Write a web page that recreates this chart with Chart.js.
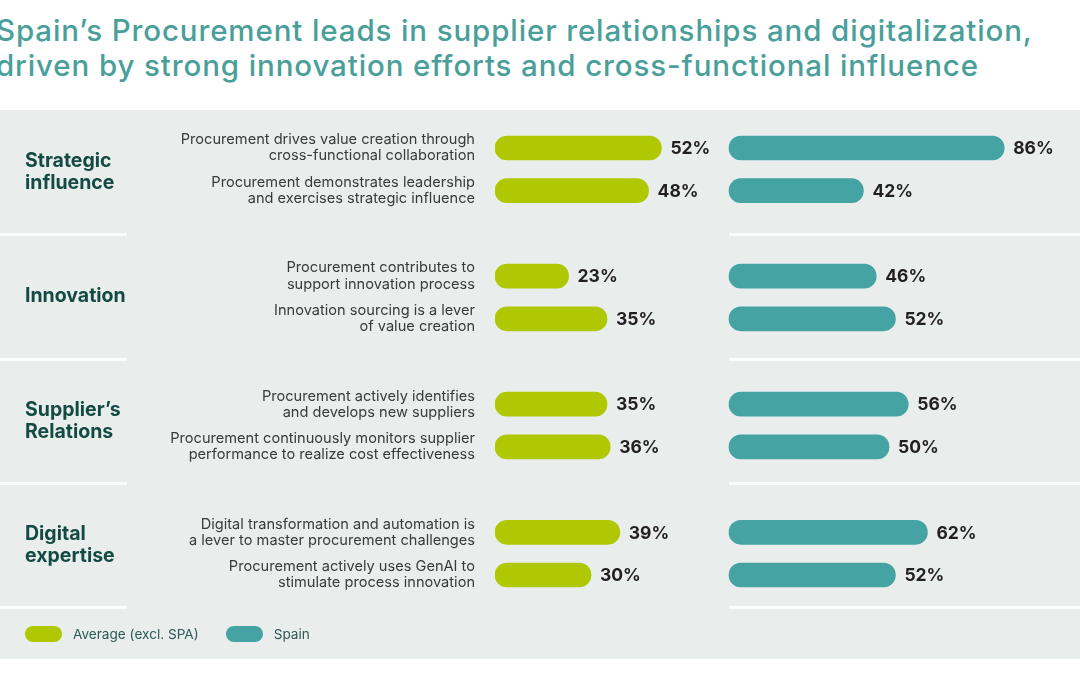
<!DOCTYPE html>
<html>
<head>
<meta charset="utf-8">
<script src="https://cdn.jsdelivr.net/npm/chart.js@4.4.1/dist/chart.umd.min.js"></script>
<style>
  html, body { margin: 0; padding: 0; background: #fff; }
  body { width: 1080px; height: 675px; position: relative; overflow: hidden; font-family: Inter, "Noto Sans", sans-serif; }
  #title { position: absolute; left: -4px; top: 13px; margin: 0; font-size: 29.5px; font-weight: 500; line-height: 35px; color: #4a9f9b; white-space: nowrap; letter-spacing: 0.88px; }
  #panel { position: absolute; left: 0; top: 110px; width: 1080px; height: 549px; background: #e9edec; }
  .sep { position: absolute; height: 3px; background: #fbfdfc; }
  #chartBox { position: absolute; left: 0; top: 0; width: 1080px; height: 675px; }
  #legend { position: absolute; left: 25px; top: 626px; display: flex; align-items: center; font-size: 13.6px; color: #2d5a57; }
  #legend .pill { width: 37px; height: 16px; border-radius: 8px; display: inline-block; margin-right: 11px; }
  #legend .item { display: flex; align-items: center; margin-right: 27px; }
</style>
</head>
<body>
<h1 id="title">Spain’s Procurement leads in supplier relationships and digitalization,<br>driven by strong innovation efforts and cross-functional influence</h1>
<div id="panel"></div>
<div id="seps"></div>
<div id="chartBox"><canvas id="chart" width="1080" height="675"></canvas></div>
<div id="legend"></div>

<script>
// ===============================
// 資料
// ===============================
const groups = ["Strategic\ninfluence", "Innovation", "Supplier’s\nRelations", "Digital\nexpertise"];

// 每組兩列，組與組之間放一個空白列
const rowLabels = [
  ["Procurement drives value creation through", "cross-functional collaboration"],
  ["Procurement demonstrates leadership", "and exercises strategic influence"],
  "",
  ["Procurement contributes to", "support innovation process"],
  ["Innovation sourcing is a lever", "of value creation"],
  "",
  ["Procurement actively identifies", "and develops new suppliers"],
  ["Procurement continuously monitors supplier", "performance to realize cost effectiveness"],
  "",
  ["Digital transformation and automation is", "a lever to master procurement challenges"],
  ["Procurement actively uses GenAI to", "stimulate process innovation"]
];

const averageValues = [52, 48, null, 23, 35, null, 35, 36, null, 39, 30];
const spainValues   = [86, 42, null, 46, 52, null, 56, 50, null, 62, 52];

const seriesNames = ["Average (excl. SPA)", "Spain"];
const seriesColors = ["#afc802", "#46a3a3"];

// ===============================
// 版面
// ===============================
const PANEL_TOP = 110;
const BAND = 124.3;
const SEP_RIGHT_START = 729;

// 白色分隔線
const sepBox = document.getElementById("seps");
for (let i = 1; i <= 4; i++) {
  const y = Math.round(PANEL_TOP + BAND * i) - 1;
  sepBox.innerHTML += `<div class="sep" style="left:0;width:127px;top:${y}px"></div>`;
  sepBox.innerHTML += `<div class="sep" style="left:${SEP_RIGHT_START}px;width:${1080 - SEP_RIGHT_START}px;top:${y}px"></div>`;
}

// 圖例
document.getElementById("legend").innerHTML = seriesNames.map((n, i) =>
  `<span class="item"><span class="pill" style="background:${seriesColors[i]}"></span>${n}</span>`
).join("");

// ===============================
// 外掛：組名 + 數值標籤
// ===============================
const labelPlugin = {
  id: "labels",
  afterDatasetsDraw(chart) {
    const ctx = chart.ctx;
    ctx.save();

    // 數值
    ctx.font = "700 17.5px Inter, 'Noto Sans', sans-serif";
    ctx.fillStyle = "#231f20";
    ctx.textBaseline = "middle";
    ctx.textAlign = "left";
    chart.data.datasets.forEach((ds, di) => {
      chart.getDatasetMeta(di).data.forEach((el, i) => {
        if (ds.data[i] == null) return;
        ctx.fillText(ds.data[i] + "%", el.x + 9, el.y + 1);
      });
    });

    // 組名
    ctx.font = "700 19.5px Inter, 'Noto Sans', sans-serif";
    ctx.fillStyle = "#144a44";
    groups.forEach((g, i) => {
      const lines = g.split("\n");
      const cy = PANEL_TOP + BAND * (i + 0.5);
      lines.forEach((ln, j) => {
        ctx.fillText(ln, 25, cy + (j - (lines.length - 1) / 2) * 22);
      });
    });
    ctx.restore();
  }
};

// ===============================
// Chart.js
// ===============================
const GREEN_ZERO = 495;
const TEAL_ZERO = 729;
const PX_PER_PCT = 3.2;
const AREA_RIGHT = TEAL_ZERO + 100 * PX_PER_PCT;
const AREA_W = AREA_RIGHT - GREEN_ZERO;
const ROW_H = 42.7;

new Chart(document.getElementById("chart"), {
  type: "bar",
  data: {
    labels: rowLabels,
    datasets: [
      { label: seriesNames[0], data: averageValues, backgroundColor: seriesColors[0], xAxisID: "xAvg" },
      { label: seriesNames[1], data: spainValues, backgroundColor: seriesColors[1], xAxisID: "xSpa" }
    ]
  },
  options: {
    indexAxis: "y",
    responsive: false,
    animation: false,
    devicePixelRatio: 1,
    layout: {
      padding: {
        left: 0,
        right: 1080 - AREA_RIGHT,
        top: 148 - ROW_H / 2,
        bottom: 675 - (148 - ROW_H / 2 + ROW_H * rowLabels.length)
      }
    },
    datasets: {
      bar: { grouped: false, barThickness: 24, borderRadius: 12, borderSkipped: false }
    },
    plugins: { legend: { display: false }, tooltip: { enabled: false } },
    scales: {
      xAvg: { type: "linear", position: "bottom", display: false, min: 0, max: AREA_W / PX_PER_PCT },
      xSpa: { type: "linear", position: "bottom", display: false, min: -(TEAL_ZERO - GREEN_ZERO) / PX_PER_PCT, max: 100 },
      y: {
        grid: { display: false },
        border: { display: false },
        afterFit(scale) { scale.width = GREEN_ZERO; },
        ticks: {
          padding: 12,
          color: "#3a3a3a",
          font: { family: "Inter, 'Noto Sans', sans-serif", size: 14.6, lineHeight: 1.1 }
        }
      }
    }
  },
  plugins: [labelPlugin]
});
</script>
</body>
</html>
